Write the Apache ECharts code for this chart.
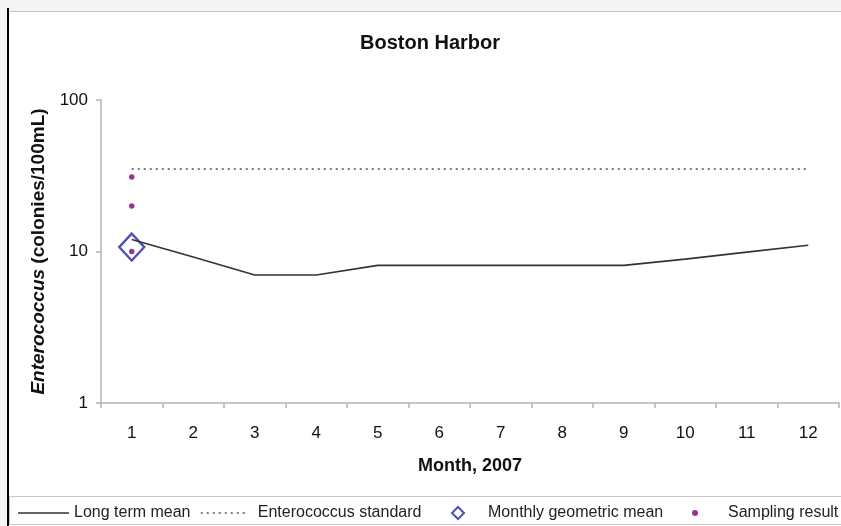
<!DOCTYPE html>
<html>
<head>
<meta charset="utf-8">
<script src="https://cdn.jsdelivr.net/npm/echarts@6/dist/echarts.min.js"></script>
<style>
  html, body { margin: 0; padding: 0; background: #f6f4f2; width: 841px; height: 526px; overflow: hidden; }
  #paper { position: absolute; left: 9px; top: 11px; width: 832px; height: 515px; background: #ffffff; border-top: 1px solid #c4c4c4; box-sizing: border-box; }
  #edge { position: absolute; left: 7px; top: 8px; width: 2px; height: 518px; background: #000; }
  #legendBox { position: absolute; left: 9px; top: 496px; width: 840px; height: 29px; border: 1px solid #c8c8c8; box-sizing: border-box; }
  #chart { position: absolute; left: 0; top: 0; width: 841px; height: 526px; }
</style>
</head>
<body>
<div id="paper"></div>
<div id="legendBox"></div>
<div id="edge"></div>
<div id="chart"></div>
<script>
// ---- data ----
const months = ['1','2','3','4','5','6','7','8','9','10','11','12'];
const longTermMean = [12, 9.2, 7, 7, 8.1, 8.1, 8.1, 8.1, 8.1, 8.9, 9.9, 11];
const enterococcusStandard = [35, 35, 35, 35, 35, 35, 35, 35, 35, 35, 35, 35];
const geoMeanMonths = ['1'];
const geoMeanValues = [10.7];
const sampleMonths = ['1', '1', '1'];
const sampleValues = [31, 20, 10];
const yTicks = [1, 10, 100];

const FONT = '"Liberation Sans", Arial, sans-serif';

const chart = echarts.init(document.getElementById('chart'), null, { renderer: 'canvas' });

const legendBase = {
  top: 505,
  padding: 0,
  itemHeight: 14,
  textStyle: { fontFamily: FONT, fontSize: 16, color: '#222' },
  selectedMode: false
};

chart.setOption({
  animation: false,
  title: {
    text: 'Boston Harbor',
    left: 430,
    top: 33,
    padding: 0,
    textAlign: 'center',
    textStyle: { fontFamily: FONT, fontSize: 20, fontWeight: 'bold', color: '#111' }
  },
  grid: { left: 101, right: 2, top: 100, bottom: 123, containLabel: false },
  legend: [
    Object.assign({}, legendBase, { left: 17, itemWidth: 51, data: ['Long term mean'],
      itemStyle: { opacity: 0 }, lineStyle: { color: '#666', width: 2 } }),
    Object.assign({}, legendBase, { left: 200, itemWidth: 48, data: ['Enterococcus standard'],
      itemStyle: { opacity: 0 }, lineStyle: { color: '#555', width: 1.5, type: [2, 4] },
      textStyle: Object.assign({}, legendBase.textStyle, { padding: [0, 0, 0, 4] }) }),
    Object.assign({}, legendBase, { left: 451, itemWidth: 12, itemHeight: 12,
      data: [{ name: 'Monthly geometric mean', icon: 'diamond' }],
      textStyle: Object.assign({}, legendBase.textStyle, { padding: [0, 0, 0, 19] }) }),
    Object.assign({}, legendBase, { left: 692, itemWidth: 6, itemHeight: 6,
      data: [{ name: 'Sampling result', icon: 'circle' }],
      textStyle: Object.assign({}, legendBase.textStyle, { padding: [0, 0, 0, 25] }) })
  ],
  xAxis: {
    type: 'category',
    data: months,
    boundaryGap: true,
    name: 'Month, 2007',
    nameLocation: 'middle',
    nameGap: 54,
    nameTextStyle: { fontFamily: FONT, fontSize: 18, fontWeight: 'bold', color: '#111' },
    axisLine: { lineStyle: { color: '#b4b4b4', width: 1.5 } },
    axisTick: { show: true, length: 5, lineStyle: { color: '#b4b4b4', width: 1.5 } },
    axisLabel: { fontFamily: FONT, fontSize: 17, color: '#111', margin: 22 },
    splitLine: { show: false }
  },
  yAxis: {
    type: 'log',
    logBase: 10,
    min: yTicks[0],
    max: yTicks[yTicks.length - 1],
    name: '{i|Enterococcus} {n|(colonies/100mL)}',
    nameLocation: 'middle',
    nameRotate: 90,
    nameGap: 51,
    nameTextStyle: {
      fontFamily: FONT, fontSize: 19, fontWeight: 'bold', color: '#111',
      rich: {
        i: { fontFamily: FONT, fontSize: 19, fontWeight: 'bold', fontStyle: 'italic', color: '#111' },
        n: { fontFamily: FONT, fontSize: 19, fontWeight: 'bold', color: '#111' }
      }
    },
    axisLine: { show: true, lineStyle: { color: '#b4b4b4', width: 1.5 } },
    axisTick: { show: true, length: 5, lineStyle: { color: '#b4b4b4', width: 1.5 } },
    axisLabel: { fontFamily: FONT, fontSize: 17, color: '#111', margin: 13 },
    minorTick: { show: false },
    splitLine: { show: false }
  },
  series: [
    {
      name: 'Monthly geometric mean',
      type: 'scatter',
      data: geoMeanMonths.map((m, i) => [m, geoMeanValues[i]]),
      symbol: 'diamond',
      symbolSize: [25, 27],
      itemStyle: { color: 'rgba(255,255,255,0)', borderColor: '#2626a0', borderWidth: 2.4 },
      z: 1
    },
    {
      name: 'Long term mean',
      type: 'line',
      data: longTermMean,
      symbol: 'none',
      lineStyle: { color: '#333', width: 1.6 },
      itemStyle: { color: '#555' },
      z: 2
    },
    {
      name: 'Enterococcus standard',
      type: 'line',
      data: enterococcusStandard,
      symbol: 'none',
      lineStyle: { color: '#7a7a7a', width: 2, type: [2, 4] },
      itemStyle: { color: '#7a7a7a' },
      z: 2
    },
    {
      name: 'Sampling result',
      type: 'scatter',
      data: sampleMonths.map((m, i) => [m, sampleValues[i]]),
      symbol: 'circle',
      symbolSize: 5.5,
      itemStyle: { color: '#800080' },
      z: 3
    }
  ]
});
</script>
</body>
</html>
